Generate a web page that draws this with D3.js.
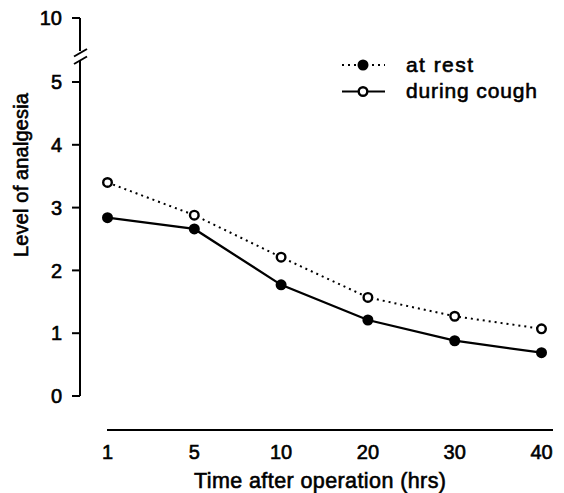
<!DOCTYPE html>
<html>
<head>
<meta charset="utf-8">
<script src="https://cdn.jsdelivr.net/npm/d3@7"></script>
<style>
  html, body { margin: 0; padding: 0; background: #fff; }
  svg { display: block; }
  text { font-family: "Liberation Sans", Arial, Helvetica, sans-serif; fill: #000; }
</style>
</head>
<body>
<svg id="chart" width="564" height="493"></svg>
<script>
// ---- data ----
const categories = ["1", "5", "10", "20", "30", "40"];
const filledSeries = [2.84, 2.66, 1.77, 1.21, 0.88, 0.69];   // solid line, filled markers
const openSeries   = [3.40, 2.88, 2.21, 1.57, 1.27, 1.07];   // dotted line, open markers
const yTicks = [0, 1, 2, 3, 4, 5, 10];
const legendLabels = ["at rest", "during cough"];
const xTitle = "Time after operation (hrs)";
const yTitle = "Level of analgesia";

const svg = d3.select("#chart");

// broken y scale: 0-5 linear, then compressed 5-10 above the break
const y = d3.scaleLinear().domain([0, 5, 10]).range([396, 82, 18]);
const x = d3.scalePoint().domain(categories).range([107.5, 541.5]);

const axisX = 80;
const ink = "#000";
const ts = 0.6; // text stroke for heavier print look

// ---- y axis ----
const yAxis = svg.append("g").attr("stroke", ink).attr("stroke-width", 2).attr("fill", "none");
yAxis.append("line").attr("x1", axisX).attr("x2", axisX).attr("y1", y(10)).attr("y2", 51);
yAxis.append("line").attr("x1", axisX).attr("x2", axisX).attr("y1", 61).attr("y2", y(0));
// break slashes
yAxis.append("line").attr("x1", 74).attr("y1", 56.5).attr("x2", 87).attr("y2", 49);
yAxis.append("line").attr("x1", 74).attr("y1", 64).attr("x2", 87).attr("y2", 56.5);
// ticks
yAxis.selectAll("line.tick").data(yTicks).join("line")
  .attr("class", "tick")
  .attr("x1", axisX - 8).attr("x2", axisX)
  .attr("y1", d => y(d)).attr("y2", d => y(d));

svg.append("g").selectAll("text").data(yTicks).join("text")
  .attr("x", 62).attr("y", d => y(d))
  .attr("dy", "0.36em")
  .attr("text-anchor", "end")
  .attr("font-size", 20)
  .attr("stroke", "#000").attr("stroke-width", ts)
  .text(d => d);

// ---- x axis ----
svg.append("line")
  .attr("x1", 107).attr("x2", 553).attr("y1", 430).attr("y2", 430)
  .attr("stroke", ink).attr("stroke-width", 2);

svg.append("g").selectAll("text").data(categories).join("text")
  .attr("x", d => x(d)).attr("y", 459)
  .attr("text-anchor", "middle")
  .attr("font-size", 20)
  .attr("stroke", "#000").attr("stroke-width", ts)
  .text(d => d);

// ---- titles ----
svg.append("text")
  .attr("x", 320).attr("y", 488)
  .attr("text-anchor", "middle")
  .attr("font-size", 21.5)
  .attr("textLength", 252).attr("lengthAdjust", "spacing")
  .attr("stroke", "#000").attr("stroke-width", ts)
  .text(xTitle);

svg.append("text")
  .attr("transform", "translate(28,175) rotate(-90)")
  .attr("text-anchor", "middle")
  .attr("font-size", 20)
  .attr("textLength", 164).attr("lengthAdjust", "spacing")
  .attr("stroke", "#000").attr("stroke-width", ts)
  .text(yTitle);

// ---- lines ----
const line = d3.line().x((d, i) => x(categories[i])).y(d => y(d));

svg.append("path").datum(openSeries)
  .attr("d", line).attr("fill", "none")
  .attr("stroke", ink).attr("stroke-width", 2)
  .attr("stroke-dasharray", "2,4");

svg.append("path").datum(filledSeries)
  .attr("d", line).attr("fill", "none")
  .attr("stroke", ink).attr("stroke-width", 2.3);

svg.append("g").selectAll("circle").data(openSeries).join("circle")
  .attr("cx", (d, i) => x(categories[i])).attr("cy", d => y(d))
  .attr("r", 4.3).attr("fill", "#fff")
  .attr("stroke", ink).attr("stroke-width", 2.4);

svg.append("g").selectAll("circle").data(filledSeries).join("circle")
  .attr("cx", (d, i) => x(categories[i])).attr("cy", d => y(d))
  .attr("r", 5.5).attr("fill", ink);

// ---- legend ----
const leg = svg.append("g");
const legRows = [
  { label: legendLabels[0], y: 65, dash: "2,4", filled: true, len: 67 },
  { label: legendLabels[1], y: 91.5, dash: null, filled: false, len: 131 }
];
legRows.forEach(r => {
  leg.append("line")
    .attr("x1", 342).attr("x2", 385).attr("y1", r.y).attr("y2", r.y)
    .attr("stroke", ink).attr("stroke-width", 2)
    .attr("stroke-dasharray", r.dash);
  if (r.filled) {
    leg.append("circle").attr("cx", 363).attr("cy", r.y).attr("r", 5.5).attr("fill", ink);
  } else {
    leg.append("circle").attr("cx", 363).attr("cy", r.y).attr("r", 4.3)
      .attr("fill", "#fff").attr("stroke", ink).attr("stroke-width", 2.4);
  }
  leg.append("text")
    .attr("x", 406).attr("y", r.y + 6.5)
    .attr("font-size", 21)
    .attr("textLength", r.len).attr("lengthAdjust", "spacing")
    .attr("stroke", "#000").attr("stroke-width", ts)
    .text(r.label);
});
</script>
</body>
</html>
